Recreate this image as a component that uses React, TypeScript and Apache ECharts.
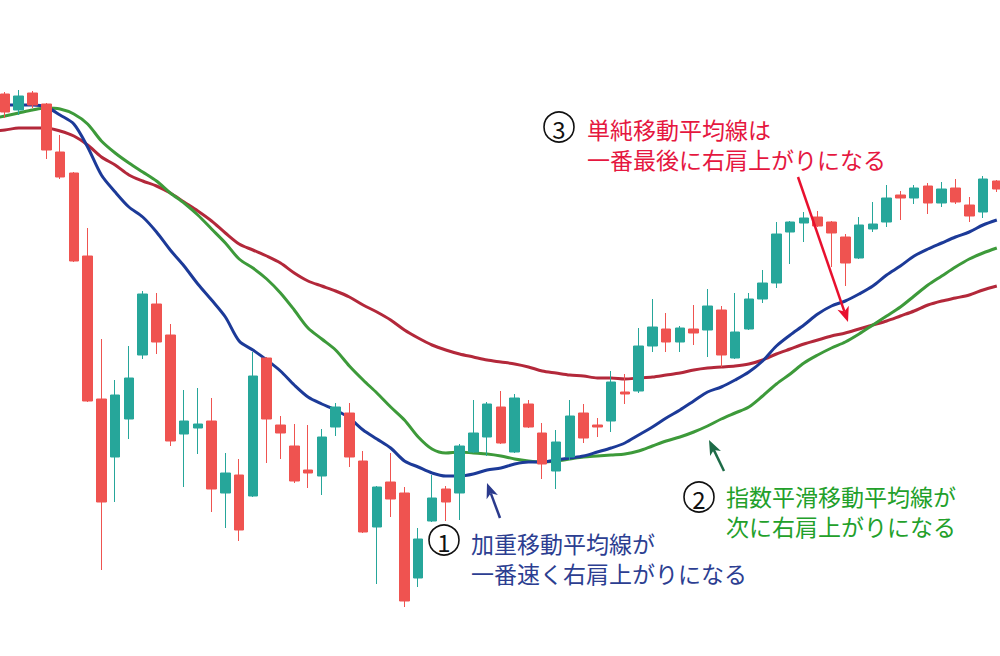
import React, { useEffect, useRef } from "react";
import * as echarts from "echarts";

// Price values (arbitrary units). Index 0 is a lead-in point with no candle.
const categories: string[] = Array.from({ length: 74 }, (_, i) => `D${i}`);

// Candles for categories 1..73
const openV = [562, 546, 563, 552, 504, 483, 400, 257, 199, 237, 301, 352, 321, 222, 228, 235, 163, 181, 160, 298, 231, 210, 186, 180, 229, 243, 195, 129, 174, 163, 78, 135, 167, 163, 204, 219, 249, 204, 252, 223, 185, 199, 243, 231, 235, 264, 265, 310, 327, 314, 327, 326, 346, 298, 327, 357, 373, 424, 433, 439, 434, 419, 398, 427, 434, 461, 458, 470, 453, 468, 451, 444, 475];
const closeV = [544, 560, 551, 506, 479, 395, 255, 154, 261, 278, 362, 314, 215, 235, 232, 167, 183, 126, 280, 237, 223, 175, 183, 219, 249, 199, 124, 169, 157, 55, 117, 158, 154, 210, 223, 252, 213, 258, 229, 192, 214, 240, 218, 229, 274, 262, 310, 329, 314, 328, 323, 350, 301, 324, 357, 373, 422, 434, 438, 430, 423, 393, 431, 432, 458, 458, 468, 453, 467, 454, 440, 477, 467];
const lowV = [538, 541, 548, 497, 477, 394, 254, 86, 154, 217, 297, 302, 210, 169, 202, 144, 128, 115, 159, 193, 197, 173, 168, 161, 220, 189, 123, 72, 139, 49, 69, 134, 135, 136, 203, 200, 212, 203, 228, 177, 167, 196, 213, 219, 224, 252, 263, 304, 304, 304, 311, 299, 289, 297, 326, 353, 368, 392, 414, 429, 389, 370, 397, 424, 429, 436, 452, 442, 449, 452, 434, 438, 464];
const highV = [564, 566, 565, 553, 521, 484, 428, 317, 276, 310, 365, 363, 332, 266, 268, 258, 203, 197, 304, 299, 240, 232, 231, 227, 253, 253, 205, 170, 203, 169, 128, 181, 170, 212, 256, 254, 265, 262, 256, 233, 226, 256, 252, 238, 285, 282, 328, 357, 343, 330, 351, 367, 350, 363, 363, 386, 434, 435, 444, 445, 435, 422, 439, 454, 471, 465, 471, 473, 474, 477, 459, 480, 476];

// Weighted moving average (blue), categories 0..73
const wma = [551, 551, 551, 551, 549, 541, 532, 509, 481, 464, 449, 439, 424, 406, 390, 372, 356, 339, 315, 306, 296, 285, 271, 259, 252, 246, 238, 226, 217, 208, 195, 189, 183, 180, 180, 182, 186, 188, 192, 194, 194, 196, 198, 200, 204, 208, 213, 221, 229, 238, 246, 255, 264, 269, 276, 284, 295, 310, 321, 331, 342, 350, 355, 362, 370, 381, 390, 400, 407, 413, 419, 424, 431, 436];
// Exponential moving average (green)
const ema = [537, 540, 543, 546, 548, 547, 542, 532, 515, 503, 493, 484, 475, 463, 453, 441, 427, 413, 397, 388, 377, 363, 346, 328, 317, 306, 290, 276, 263, 249, 236, 219, 207, 203, 204, 203, 202, 200, 197, 195, 194, 195, 197, 199, 200, 201, 202, 205, 210, 215, 219, 224, 230, 237, 243, 249, 260, 272, 282, 293, 301, 308, 314, 322, 331, 340, 349, 360, 371, 380, 389, 397, 403, 408];
// Simple moving average (red)
const sma = [525, 526, 528, 528, 528, 525, 520, 511, 499, 491, 481, 475, 470, 463, 454, 445, 435, 423, 412, 406, 400, 393, 383, 375, 370, 365, 359, 351, 344, 336, 326, 318, 311, 306, 302, 299, 296, 294, 292, 289, 285, 283, 281, 280, 278, 278, 277, 278, 279, 281, 283, 286, 288, 289, 290, 292, 296, 302, 307, 312, 316, 320, 323, 327, 331, 335, 340, 345, 351, 355, 358, 361, 366, 370];

const note1 = ["加重移動平均線が", "一番速く右肩上がりになる"];
const note2 = ["指数平滑移動平均線が", "次に右肩上がりになる"];
const note3 = ["単純移動平均線は", "一番最後に右肩上がりになる"];

const FONT = '"Noto Sans CJK JP", "Noto Sans", sans-serif';

function arrow(x1: number, y1: number, x2: number, y2: number, color: string) {
  const dx = x2 - x1;
  const dy = y2 - y1;
  const L = Math.hypot(dx, dy);
  const ux = dx / L;
  const uy = dy / L;
  const hl = 15;
  const hw = 6;
  const bx = x2 - ux * hl;
  const by = y2 - uy * hl;
  const px = -uy;
  const py = ux;
  return [
    {
      type: "line",
      shape: { x1, y1, x2: bx + ux * 4, y2: by + uy * 4 },
      style: { stroke: color, lineWidth: 2.5 },
      z: 10,
    },
    {
      type: "polygon",
      shape: {
        points: [
          [x2, y2],
          [bx + px * hw, by + py * hw],
          [bx + ux * 4, by + uy * 4],
          [bx - px * hw, by - py * hw],
        ],
      },
      style: { fill: color },
      z: 10,
    },
  ];
}

function note(num: string, cx: number, cy: number, lines: string[], tx: number, ty: number, color: string) {
  return [
    {
      type: "circle",
      shape: { cx, cy, r: 15 },
      style: { fill: "#fff", stroke: "#111", lineWidth: 1.6 },
      z: 10,
    },
    {
      type: "text",
      x: cx,
      y: cy + 1,
      style: { text: num, fill: "#111", fontSize: 24, fontFamily: FONT, align: "center", verticalAlign: "middle" },
      z: 11,
    },
    {
      type: "text",
      x: tx,
      y: ty + 15,
      style: {
        text: lines.join("\n"),
        fill: color,
        fontSize: 23,
        lineHeight: 30,
        fontFamily: FONT,
        align: "left",
        verticalAlign: "middle",
      },
      z: 11,
    },
  ];
}

export default function App() {
  const ref = useRef<HTMLDivElement>(null);
  useEffect(() => {
    if (!ref.current) return;
    const chart = echarts.init(ref.current, undefined, { renderer: "svg" });
    const candles = openV.map((o, i) => [i + 1, o, closeV[i], lowV[i], highV[i]]);
    const lineStyle = (c: string) => ({ color: c, width: 3 });
    chart.setOption({
      animation: false,
      backgroundColor: "#ffffff",
      grid: { left: -15.7, right: -3.7, top: 0, bottom: 0, outerBoundsMode: "none", containLabel: false },
      xAxis: {
        type: "category",
        data: categories,
        boundaryGap: true,
        show: false,
      },
      yAxis: { type: "value", min: 0, max: 656, show: false },
      series: [
        { type: "line", data: sma, symbol: "none", smooth: 0.3, lineStyle: lineStyle("#b3283a"), z: 2 },
        { type: "line", data: ema, symbol: "none", smooth: 0.3, lineStyle: lineStyle("#3d9a3a"), z: 2 },
        { type: "line", data: wma, symbol: "none", smooth: 0.3, lineStyle: lineStyle("#1c3a98"), z: 2 },
        {
          type: "candlestick",
          data: candles,
          encode: { x: 0, y: [1, 2, 3, 4] },
          barWidth: 10,
          z: 5,
          itemStyle: {
            color: "#26a69a",
            color0: "#ef5350",
            borderColor: "#26a69a",
            borderColor0: "#ef5350",
            borderWidth: 1,
          },
        },
      ],
      graphic: [
        ...arrow(798, 177, 848, 322, "#e8102e"),
        ...arrow(500, 518, 487, 483, "#2b3a8c"),
        ...arrow(724, 471, 709, 440, "#1d6b47"),
        ...note("3", 559, 127, note3, 587, 129, "#e5173f"),
        ...note("1", 444, 540, note1, 471, 543, "#2c3e91"),
        ...note("2", 699, 497, note2, 726, 496, "#22a02a"),
      ],
    });
    return () => chart.dispose();
  }, []);
  return (
    <div
      ref={ref}
      style={{ position: "absolute", left: 0, top: 0, width: 1000, height: 656, background: "#fff" }}
    />
  );
}
